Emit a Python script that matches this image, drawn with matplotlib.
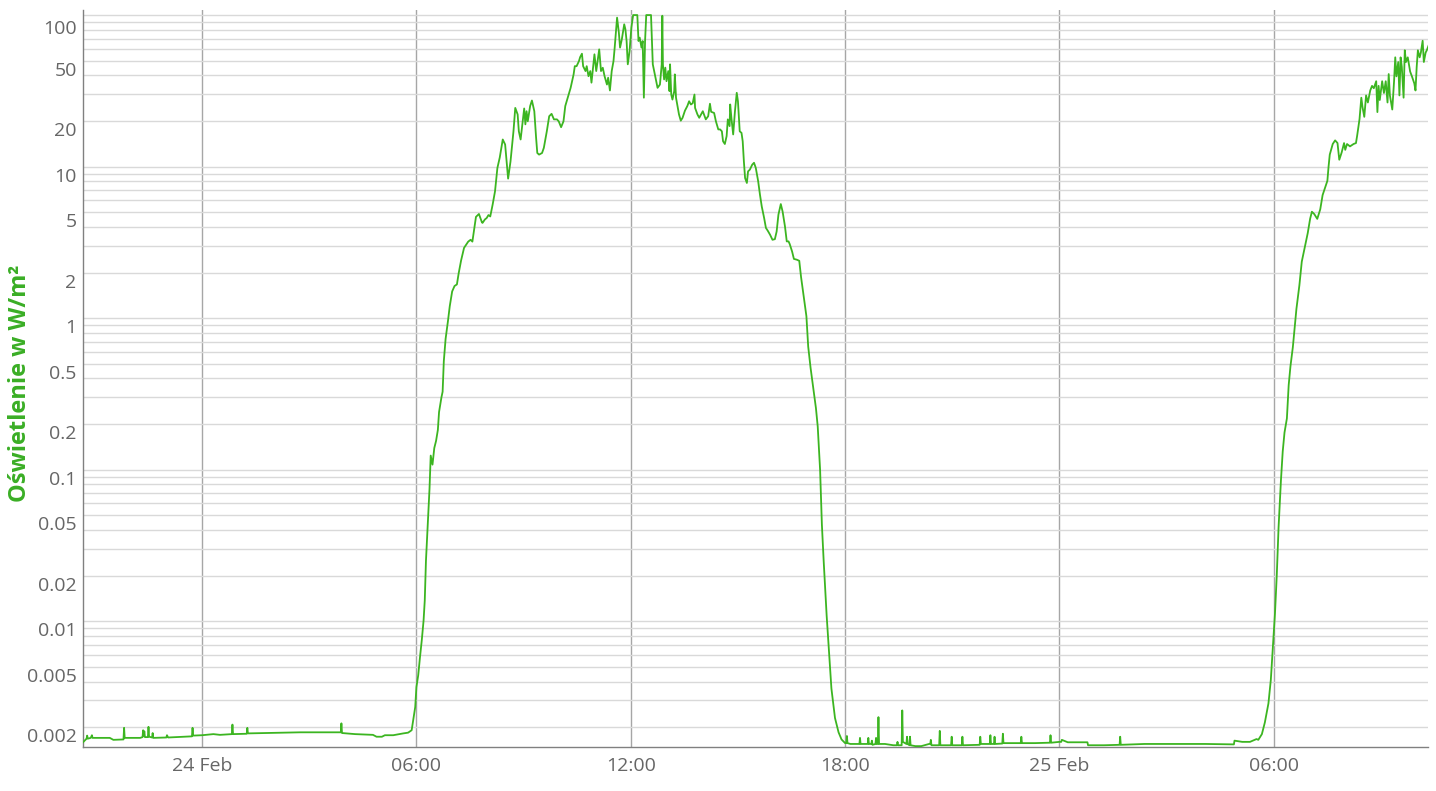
import matplotlib
matplotlib.use("Agg")
import matplotlib.pyplot as plt
import matplotlib.transforms as mtransforms
from matplotlib.ticker import LogLocator, NullFormatter
import pandas as pd

# ---------------- data (W/m²) ----------------
night1_times = [
    "23 20:40", "23 20:46", "23 20:47", "23 20:48", "23 20:53", "23 20:55", "23 20:56", "23 21:25",
    "23 21:31", "23 21:48", "23 21:49", "23 21:50", "23 22:16", "23 22:20", "23 22:21", "23 22:22",
    "23 22:23", "23 22:24", "23 22:29", "23 22:30", "23 22:31", "23 22:36", "23 22:37", "23 22:38",
    "23 23:00", "23 23:01", "23 23:03", "23 23:43", "23 23:44", "23 23:45", "24 00:00", "24 00:19",
    "24 00:30", "24 00:50", "24 00:51", "24 00:52", "24 01:15", "24 01:16", "24 01:17", "24 02:45",
    "24 03:53", "24 03:54", "24 03:55", "24 04:17", "24 04:47", "24 04:53", "24 05:02", "24 05:07",
    "24 05:21", "24 05:38", "24 05:46",
]
night1_values = [
    0.00159, 0.00168, 0.00176, 0.00168, 0.0017, 0.00177, 0.0017, 0.0017,
    0.00165, 0.00166, 0.00198, 0.0017, 0.0017, 0.00172, 0.00191, 0.00175,
    0.00188, 0.00172, 0.00172, 0.00201, 0.00173, 0.00171, 0.00183, 0.0017,
    0.00171, 0.00177, 0.00171, 0.00174, 0.00198, 0.00176, 0.00177, 0.0018,
    0.00178, 0.0018, 0.00208, 0.0018, 0.00181, 0.00198, 0.00182, 0.00185,
    0.00185, 0.00212, 0.00183, 0.0018, 0.00178, 0.00173, 0.00173, 0.00177,
    0.00177, 0.00182, 0.00184,
]

day1_times = [
    "24 05:52", "24 05:55", "24 05:58", "24 06:00", "24 06:03", "24 06:06", "24 06:09", "24 06:12",
    "24 06:14", "24 06:16", "24 06:19", "24 06:22", "24 06:24", "24 06:27", "24 06:30", "24 06:33",
    "24 06:36", "24 06:38", "24 06:42", "24 06:44", "24 06:46", "24 06:49", "24 06:53", "24 06:56",
    "24 07:00", "24 07:04", "24 07:08", "24 07:11", "24 07:15", "24 07:20", "24 07:27", "24 07:31",
    "24 07:34", "24 07:37", "24 07:40", "24 07:45", "24 07:50", "24 07:51", "24 07:55", "24 07:58",
    "24 08:01", "24 08:04", "24 08:08", "24 08:12", "24 08:16", "24 08:20", "24 08:25", "24 08:29",
    "24 08:32", "24 08:34", "24 08:38", "24 08:43", "24 08:46", "24 08:50", "24 08:52", "24 08:55",
    "24 08:58", "24 09:01", "24 09:03", "24 09:05", "24 09:07", "24 09:11", "24 09:14", "24 09:18",
    "24 09:21", "24 09:23", "24 09:26", "24 09:31", "24 09:34", "24 09:39", "24 09:43", "24 09:47",
    "24 09:51", "24 09:56", "24 09:59", "24 10:03", "24 10:07", "24 10:10", "24 10:15", "24 10:19",
    "24 10:24", "24 10:26", "24 10:29", "24 10:33", "24 10:35", "24 10:38", "24 10:40", "24 10:44",
    "24 10:46", "24 10:49", "24 10:52", "24 10:54", "24 10:56", "24 10:59", "24 11:02", "24 11:04",
    "24 11:07", "24 11:10", "24 11:13", "24 11:16", "24 11:20", "24 11:22", "24 11:25", "24 11:28",
    "24 11:31", "24 11:33", "24 11:35", "24 11:37", "24 11:40", "24 11:42", "24 11:45", "24 11:49",
    "24 11:51", "24 11:53", "24 11:55", "24 11:58", "24 12:01", "24 12:04", "24 12:08", "24 12:11",
    "24 12:13", "24 12:15", "24 12:18", "24 12:20", "24 12:22", "24 12:24", "24 12:26", "24 12:34",
    "24 12:37", "24 12:41", "24 12:45", "24 12:49", "24 12:52", "24 12:53", "24 12:54", "24 12:56",
    "24 12:58", "24 13:00", "24 13:03", "24 13:05", "24 13:06", "24 13:08", "24 13:10", "24 13:13",
    "24 13:14", "24 13:16", "24 13:18", "24 13:21", "24 13:24", "24 13:27", "24 13:31", "24 13:35",
    "24 13:38", "24 13:41", "24 13:44", "24 13:47", "24 13:48", "24 13:52", "24 13:55", "24 13:58",
    "24 14:01", "24 14:03", "24 14:06", "24 14:10", "24 14:13", "24 14:15", "24 14:20", "24 14:23",
    "24 14:27", "24 14:30", "24 14:33", "24 14:35", "24 14:38", "24 14:41", "24 14:43", "24 14:46",
    "24 14:47", "24 14:49", "24 14:52", "24 14:55", "24 14:58", "24 15:00", "24 15:03", "24 15:06",
    "24 15:08", "24 15:10", "24 15:12", "24 15:15", "24 15:17", "24 15:20", "24 15:24", "24 15:27",
    "24 15:30", "24 15:34", "24 15:37", "24 15:40", "24 15:44", "24 15:47", "24 15:50", "24 15:54",
    "24 15:58", "24 16:02", "24 16:05", "24 16:08", "24 16:12", "24 16:15", "24 16:19", "24 16:22",
    "24 16:25", "24 16:27", "24 16:31", "24 16:34", "24 16:39", "24 16:43", "24 16:46", "24 16:51",
    "24 16:55", "24 16:58", "24 17:02", "24 17:07", "24 17:11", "24 17:14", "24 17:18", "24 17:21",
    "24 17:24", "24 17:29", "24 17:33", "24 17:37", "24 17:43", "24 17:49", "24 17:54",
]
day1_values = [
    0.00191, 0.00228, 0.00272, 0.00368, 0.0044, 0.0058, 0.0075, 0.0101,
    0.0137, 0.025, 0.043, 0.075, 0.124, 0.108, 0.139, 0.155,
    0.183, 0.24, 0.30, 0.327, 0.52, 0.73, 0.96, 1.2,
    1.5, 1.63, 1.67, 1.98, 2.4, 2.91, 3.2, 3.29,
    3.2, 3.84, 4.66, 4.87, 4.29, 4.25, 4.48, 4.58,
    4.79, 4.69, 5.61, 6.87, 9.8, 11.5, 15.1, 14.0,
    10.3, 8.33, 10.8, 17.1, 24.4, 22.1, 17.1, 15.1,
    19.0, 24.2, 19.0, 23.2, 19.9, 25.1, 27.3, 23.2,
    15.5, 12.3, 12.0, 12.3, 13.3, 17.1, 21.5, 22.3,
    20.5, 20.5, 19.9, 18.2, 19.9, 25.1, 29.2, 33.1,
    40.6, 46.0, 46.0, 49.7, 52.8, 55.6, 46.0, 42.7,
    46.0, 39.5, 42.7, 35.8, 42.7, 55.1, 42.7, 48.5,
    59.4, 42.7, 44.9, 39.5, 34.8, 38.6, 31.8, 42.7,
    49.7, 61.0, 76.6, 96.2, 76.6, 61.0, 69.2, 86.9,
    80.5, 67.4, 47.3, 57.9, 82.6, 100.0, 100.0, 100.0,
    67.4, 71.0, 61.0, 67.4, 28.5, 67.4, 100.0, 100.0,
    47.3, 39.5, 33.1, 34.8, 47.3, 99.0, 47.3, 37.6,
    45.0, 36.6, 42.7, 31.5, 47.3, 29.9, 27.7, 31.5,
    40.6, 28.5, 25.7, 22.1, 20.1, 21.0, 23.4, 25.1,
    27.0, 25.7, 26.2, 29.9, 24.4, 22.1, 21.0, 22.1,
    23.2, 22.1, 20.5, 21.5, 26.0, 23.0, 22.6, 19.9,
    17.6, 17.6, 17.1, 14.7, 14.1, 15.9, 20.5, 18.5,
    25.7, 21.0, 16.3, 23.2, 30.7, 27.0, 17.1, 16.7,
    14.7, 10.8, 8.41, 7.8, 9.3, 9.55, 10.3, 10.6,
    9.8, 8.0, 6.53, 5.46, 4.58, 3.94, 3.78, 3.55,
    3.29, 3.32, 3.73, 4.82, 5.66, 5.06, 4.03, 3.21,
    3.21, 3.08, 2.75, 2.46, 2.43, 2.39, 1.87, 1.34,
    1.03, 0.65, 0.47, 0.336, 0.255, 0.193, 0.0995, 0.0434,
    0.025, 0.0109, 0.00625, 0.0036, 0.0023, 0.00185, 0.00166,
]

night2_times = [
    "24 18:00", "24 18:02", "24 18:03", "24 18:04", "24 18:09", "24 18:24", "24 18:25", "24 18:26",
    "24 18:38", "24 18:39", "24 18:40", "24 18:44", "24 18:45", "24 18:46", "24 18:51", "24 18:52",
    "24 18:53", "24 18:55", "24 18:56", "24 18:57", "24 19:07", "24 19:21", "24 19:27", "24 19:28",
    "24 19:29", "24 19:35", "24 19:36", "24 19:37", "24 19:43", "24 19:44", "24 19:45", "24 19:48",
    "24 19:49", "24 19:50", "24 19:58", "24 20:08", "24 20:21", "24 20:23", "24 20:24", "24 20:25",
    "24 20:38", "24 20:39", "24 20:40", "24 20:58", "24 20:59", "24 21:00", "24 21:16", "24 21:17",
    "24 21:18", "24 21:46", "24 21:47", "24 21:48", "24 22:03", "24 22:04", "24 22:05", "24 22:10",
    "24 22:11", "24 22:12", "24 22:24", "24 22:25", "24 22:26", "24 22:45", "24 22:55", "24 22:56",
    "24 22:57", "24 23:19", "24 23:44", "24 23:45", "24 23:46", "25 00:00", "25 00:03", "25 00:04",
    "25 00:14", "25 00:47", "25 00:48", "25 01:15", "25 01:41", "25 01:42", "25 01:43", "25 02:23",
    "25 02:57", "25 04:05", "25 04:53", "25 04:54", "25 05:07", "25 05:20",
]
night2_values = [
    0.00157, 0.00157, 0.00175, 0.00157, 0.00155, 0.00155, 0.0017, 0.00155,
    0.00155, 0.0017, 0.00155, 0.00155, 0.00163, 0.00153, 0.00155, 0.0017,
    0.00155, 0.00155, 0.00233, 0.00155, 0.00155, 0.00152, 0.00152, 0.0016,
    0.00152, 0.00152, 0.00258, 0.0016, 0.00155, 0.00173, 0.00155, 0.00152,
    0.00173, 0.00152, 0.0015, 0.0015, 0.00155, 0.00155, 0.00165, 0.00152,
    0.00152, 0.00189, 0.00152, 0.00152, 0.00173, 0.00152, 0.00152, 0.00173,
    0.00152, 0.00153, 0.00173, 0.00155, 0.00155, 0.00177, 0.00155, 0.00155,
    0.00173, 0.00155, 0.00156, 0.00181, 0.00157, 0.00157, 0.00157, 0.00173,
    0.00157, 0.00157, 0.00158, 0.00177, 0.00158, 0.0016, 0.0016, 0.00165,
    0.00159, 0.00159, 0.00152, 0.00152, 0.00153, 0.00173, 0.00153, 0.00155,
    0.00155, 0.00155, 0.00154, 0.00163, 0.0016, 0.0016,
]

day2_times = [
    "25 05:31", "25 05:34", "25 05:40", "25 05:45", "25 05:51", "25 05:55", "25 05:59", "25 06:02",
    "25 06:05", "25 06:08", "25 06:12", "25 06:15", "25 06:18", "25 06:22", "25 06:25", "25 06:28",
    "25 06:32", "25 06:35", "25 06:38", "25 06:43", "25 06:47", "25 06:52", "25 06:57", "25 07:01",
    "25 07:04", "25 07:08", "25 07:13", "25 07:18", "25 07:22", "25 07:26", "25 07:30", "25 07:32",
    "25 07:34", "25 07:39", "25 07:43", "25 07:47", "25 07:50", "25 07:54", "25 07:58", "25 08:00",
    "25 08:03", "25 08:08", "25 08:14", "25 08:18", "25 08:20", "25 08:24", "25 08:27", "25 08:29",
    "25 08:32", "25 08:35", "25 08:38", "25 08:42", "25 08:45", "25 08:48", "25 08:52", "25 08:54",
    "25 08:56", "25 08:58", "25 09:02", "25 09:05", "25 09:08", "25 09:11", "25 09:13", "25 09:15",
    "25 09:19", "25 09:22", "25 09:24", "25 09:26", "25 09:29", "25 09:31", "25 09:33", "25 09:35",
    "25 09:38", "25 09:40", "25 09:42", "25 09:45", "25 09:49", "25 09:52", "25 09:56", "25 09:58",
    "25 10:00", "25 10:02", "25 10:05", "25 10:07", "25 10:10", "25 10:12", "25 10:15", "25 10:17",
    "25 10:20",
]
day2_values = [
    0.00167, 0.00165, 0.0018, 0.00215, 0.00287, 0.0041, 0.0073, 0.0113,
    0.0201, 0.0415, 0.085, 0.132, 0.176, 0.218, 0.361, 0.482,
    0.644, 0.86, 1.15, 1.65, 2.36, 2.93, 3.64, 4.52,
    5.04, 4.86, 4.52, 5.22, 6.49, 7.23, 8.06, 10.0,
    12.0, 14.1, 14.9, 14.3, 11.1, 12.4, 14.3, 12.9,
    14.1, 13.6, 14.1, 14.3, 16.0, 20.6, 28.5, 24.7,
    21.3, 29.5, 26.5, 31.8, 34.1, 32.9, 36.6, 22.9,
    34.1, 27.5, 36.6, 30.6, 36.6, 26.5, 40.8, 29.5,
    23.8, 36.6, 52.6, 39.4, 49.0, 29.5, 52.6, 45.5,
    28.5, 58.6, 49.0, 52.6, 42.4, 39.4, 35.4, 31.8,
    45.5, 58.6, 52.6, 56.5, 67.7, 49.0, 56.5, 58.6,
    63.0,
]

x_ticks = ["2024-02-24 00:00", "2024-02-24 06:00", "2024-02-24 12:00",
           "2024-02-24 18:00", "2024-02-25 00:00", "2024-02-25 06:00"]
x_tick_labels = ["24 Feb", "06:00", "12:00", "18:00", "25 Feb", "06:00"]
x_range = ["2024-02-23 20:40", "2024-02-25 10:19"]

y_ticks = [0.002, 0.005, 0.01, 0.02, 0.05, 0.1, 0.2, 0.5, 1, 2, 5, 10, 20, 50, 100]
y_tick_labels = ["0.002", "0.005", "0.01", "0.02", "0.05", "0.1", "0.2", "0.5",
                 "1", "2", "5", "10", "20", "50", "100"]
y_range = [0.00148, 108]

y_title = "Oświetlenie w W/m²"

# ---------------- style ----------------
GREEN = "#3cb521"
TITLE_GREEN = "#3aae25"
LABEL_GREY = "#666666"
HGRID = "#d9d9d9"
VGRID = "#a6a6a6"
AXIS = "#808080"

plt.rcParams['font.family'] = ['Open Sans', 'DejaVu Sans']

W, H = 1436, 791
fig = plt.figure(figsize=(W / 100, H / 100), dpi=100)
left, right, top, bottom = 83, 1428, 10, 747
ax = fig.add_axes([left / W, 1 - bottom / H, (right - left) / W, (bottom - top) / H])

times = night1_times + day1_times + night2_times + day2_times
values = night1_values + day1_values + night2_values + day2_values
assert len(times) == len(values)
t = pd.to_datetime(["2024-02-" + s for s in times])
ax.plot(t, values, color=GREEN, lw=1.3, solid_joinstyle='round', zorder=3)

ax.set_yscale('log')
ax.set_ylim(*y_range)
ax.set_xlim(pd.Timestamp(x_range[0]), pd.Timestamp(x_range[1]))

ax.set_yticks(y_ticks)
ax.set_yticklabels(y_tick_labels)
ax.yaxis.set_minor_locator(LogLocator(base=10, subs=range(1, 10), numticks=50))
ax.yaxis.set_minor_formatter(NullFormatter())

ax.set_xticks(pd.to_datetime(x_ticks))
ax.set_xticklabels(x_tick_labels)

ax.tick_params(axis='y', which='both', length=0, pad=4.5, labelsize=14, labelcolor=LABEL_GREY)
ax.tick_params(axis='x', which='both', length=0, pad=7, labelsize=14, labelcolor=LABEL_GREY)

ax.grid(axis='y', which='both', color=HGRID, lw=1.0, zorder=0)
ax.grid(axis='x', which='major', color=VGRID, lw=1.0, zorder=0)
ax.set_axisbelow(True)

for s in ['top', 'right']:
    ax.spines[s].set_visible(False)
for s in ['left', 'bottom']:
    ax.spines[s].set_color(AXIS)
    ax.spines[s].set_linewidth(1.0)

# Highcharts-like label placement: labels sit a little below their gridline
for lab in ax.get_yticklabels():
    dy = -12 if lab.get_text() == "100" else -8
    shift = mtransforms.ScaledTranslation(0, dy / 100, fig.dpi_scale_trans)
    lab.set_transform(lab.get_transform() + shift)

fig.text(20 / W, 1 - 383 / H, y_title, rotation=90, ha='center', va='center',
         fontsize=17, fontweight='bold', color=TITLE_GREEN)

fig.savefig("out.png", dpi=100, facecolor='white')
